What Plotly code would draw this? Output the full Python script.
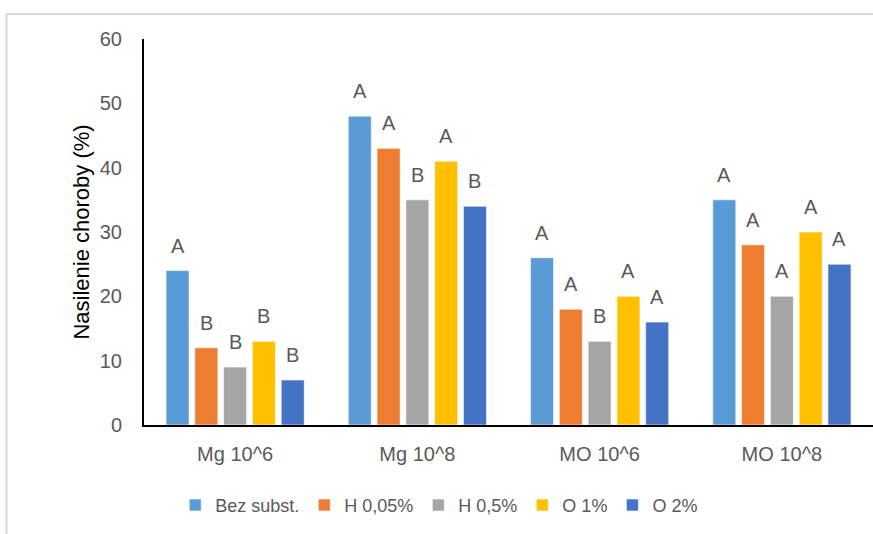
import plotly.graph_objects as go

# Disease severity per inoculum and treatment
categories = ["Mg 10^6", "Mg 10^8", "MO 10^6", "MO 10^8"]
series_names = ["Bez subst.", "H 0,05%", "H 0,5%", "O 1%", "O 2%"]
values = [
    [24, 48, 26, 35],   # Bez subst.
    [12, 43, 18, 28],   # H 0,05%
    [9, 35, 13, 20],    # H 0,5%
    [13, 41, 20, 30],   # O 1%
    [7, 34, 16, 25],    # O 2%
]
letters = [
    ["A", "A", "A", "A"],
    ["B", "A", "A", "A"],
    ["B", "B", "B", "A"],
    ["B", "A", "A", "A"],
    ["B", "B", "A", "A"],
]
colors = ["#5B9BD5", "#ED7D31", "#A5A5A5", "#FFC000", "#4472C4"]

FONT = "Liberation Sans, Arial, sans-serif"
TEXT_GRAY = "#595959"
BARGAP = 0.21
BARGROUPGAP = 0.2

fig = go.Figure()
for name, vals, col in zip(series_names, values, colors):
    fig.add_trace(go.Bar(
        name=name, x=categories, y=vals,
        marker=dict(color=col, line=dict(color="rgba(255,255,255,0.6)", width=1)),
    ))

# significance letters above each bar
n = len(series_names)
slot = (1 - BARGAP) / n
annotations = []
for i in range(n):
    off = -(1 - BARGAP) / 2 + (i + 0.5) * slot
    for j, cat in enumerate(categories):
        annotations.append(dict(
            x=j + off, y=values[i][j], xref="x", yref="y",
            text=letters[i][j], showarrow=False,
            yanchor="bottom", yshift=12,
            font=dict(family=FONT, size=20, color=TEXT_GRAY),
        ))

fig.update_layout(
    width=873, height=534,
    margin=dict(l=144, r=0, t=39, b=109),
    paper_bgcolor="white", plot_bgcolor="white",
    barmode="group", bargap=BARGAP, bargroupgap=BARGROUPGAP,
    font=dict(family=FONT, size=20, color=TEXT_GRAY),
    annotations=annotations,
    showlegend=True,
    legend=dict(
        orientation="h", x=0.405, xanchor="center", y=-0.208, yanchor="middle",
        font=dict(family=FONT, size=18, color=TEXT_GRAY),
        itemwidth=30, tracegroupgap=0,
    ),
    shapes=[dict(
        type="rect", xref="paper", yref="paper",
        x0=-0.1887, x1=1.05, y0=-0.35, y1=1.0646,
        line=dict(color="#D9D9D9", width=2), layer="below",
    )],
)
fig.update_xaxes(
    type="category", showline=True, linecolor="black", linewidth=2,
    showgrid=False, ticks="", ticklabelstandoff=10,
    tickfont=dict(family=FONT, size=20, color=TEXT_GRAY),
)
fig.update_yaxes(
    range=[0, 60], dtick=10, showline=True, linecolor="black", linewidth=2,
    showgrid=False, zeroline=False, ticks="", ticklabelstandoff=16,
    tickfont=dict(family=FONT, size=20, color=TEXT_GRAY),
    title=dict(text="Nasilenie choroby (%)", standoff=4,
               font=dict(family=FONT, size=22, color="black")),
)

fig.write_html("out.html")
